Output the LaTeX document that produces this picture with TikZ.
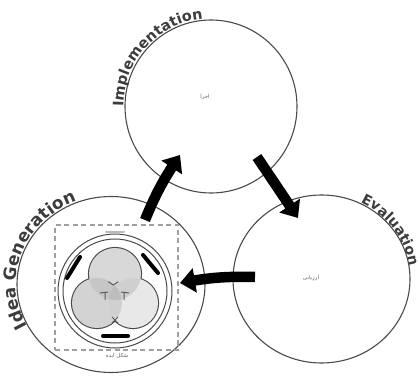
\documentclass[tikz,border=0pt]{standalone}
\usepackage{fontspec}
\usetikzlibrary{arrows.meta,decorations.text,shapes.geometric,bending,calc}
\newfontfamily\labfont{DejaVu Sans Bold}
\newfontfamily\arabicfont[Script=Arabic]{DejaVu Sans}
\TeXXeTstate=1
\definecolor{ring}{HTML}{4A4A4A}
\definecolor{txt}{HTML}{3C3C3C}
\definecolor{cT}{HTML}{D8D8D8}
\definecolor{cL}{HTML}{D3D3D3}
\definecolor{cR}{HTML}{E8E8E8}
\definecolor{cTL}{HTML}{C6C6C6}
\definecolor{cTR}{HTML}{CFCFCF}
\definecolor{cLR}{HTML}{D0D0D0}
\definecolor{cC}{HTML}{BDBDBD}
\begin{document}
\begin{tikzpicture}[x=1pt,y=1pt,
  stage/.style={ellipse, draw=ring, line width=1.1pt, fill=white, inner sep=0pt},
  bigarrow/.style={line width=10.5pt, draw=black, -{Triangle[length=15pt,width=24pt,flex]}},
  ringline/.style={circle, draw=ring, line width=1pt, inner sep=0pt},
  barline/.style={line width=4pt, line cap=round, draw=black},
  tickmark/.style={line width=1pt, draw=ring!90},
  smalltxt/.style={font=\arabicfont\fontsize{5.5}{6}\selectfont, text=txt!80, inner sep=0pt},
]
\useasboundingbox (0,0) rectangle (420,380);

% stages
\node[stage, minimum width=172pt, minimum height=173pt] (impl) at (211,273.5) {};
\node[stage, minimum width=177pt, minimum height=168pt] (eval) at (321.5,101) {};
\node[stage, minimum width=188pt, minimum height=176pt] (idea) at (111,95.5) {};

% curved titles
\path[decorate, decoration={text along path, text align=left,
  text={|\labfont\fontsize{14.5}{18}\selectfont\color{txt}|Implementation}}]
  (211,273.5) ++(180:87.5pt and 88pt) arc[start angle=180, end angle=40, x radius=87.5pt, y radius=88pt];
\path[decorate, decoration={text along path, text align=left,
  text={|\labfont\fontsize{14}{18}\selectfont\color{txt}|Evaluation}}]
  (321.5,101) ++(64:89pt and 85pt) arc[start angle=64, end angle=-60, x radius=89pt, y radius=85pt];
\path[decorate, decoration={text along path, text align=left,
  text={|\labfont\fontsize{17}{20}\selectfont\color{txt}|Idea Generation}}]
  (111,95.5) ++(208:95pt and 89.5pt) arc[start angle=208, end angle=50, x radius=95pt, y radius=89.5pt];

% inner labels
\node[smalltxt] (implt) at (205,283) {\beginR اجرا\endR};
\node[smalltxt] (evalt) at (311,102) {\beginR ارزیابی\endR};

% dashed box
\node[draw=gray!75, dash pattern=on 5pt off 3.5pt, line width=1.1pt, minimum width=123pt, minimum height=125pt, inner sep=0pt] (box) at (116.5,92.5) {};
\node[smalltxt] (boxt) at (117,24) {\beginR شکل ایده\endR};

% rings
\node[ringline, minimum size=114pt] (ringo) at (115,89) {};
\node[ringline, minimum size=104pt] (ringi) at (115,89) {};

% trefoil
\coordinate (lt) at (115,106);
\coordinate (lb) at (97,77);
\coordinate (lr) at (133,77);
\draw[ring, line width=2.2pt] (lt) circle[radius=26pt] (lb) circle[radius=25pt] (lr) circle[radius=25pt];
\fill[cT] (lt) circle[radius=26pt];
\fill[cL] (lb) circle[radius=25pt];
\fill[cR] (lr) circle[radius=25pt];
\begin{scope}\clip (lt) circle[radius=26pt]; \fill[cTL] (lb) circle[radius=25pt]; \end{scope}
\begin{scope}\clip (lt) circle[radius=26pt]; \fill[cTR] (lr) circle[radius=25pt]; \end{scope}
\begin{scope}\clip (lb) circle[radius=25pt]; \fill[cLR] (lr) circle[radius=25pt]; \end{scope}
\begin{scope}\clip (lt) circle[radius=26pt]; \clip (lb) circle[radius=25pt]; \fill[cC] (lr) circle[radius=25pt]; \end{scope}

% small marks inside trefoil
\draw[tickmark] (108.3,98.3) -- (113.3,95) -- (118.3,98.3);
\draw[tickmark] (100,87) -- (108,88) (105,87.5) -- (105,80);
\draw[tickmark] (121,88) -- (129,87) (124,87.5) -- (124,80);
\draw[tickmark] (112,63) -- (118,57) (112,57) -- (118,63);

% black bars on the ring
\draw[barline] (67,102) -- (80,123);
\draw[barline] (143,125) -- (158,107);
\draw[barline] (103,44) -- (128,44);
\draw[gray!55, line width=2pt, line cap=round] (106,148) -- (124,148);

% big arrows
\coordinate (a1s) at ($(idea.center)+(34,64.5)$);
\coordinate (a1e) at ($(impl.center)+(-31,-48.5)$);
\coordinate (a2s) at ($(impl.center)+(46,-50.5)$);
\coordinate (a2e) at ($(eval.center)+(-23.5,61)$);
\coordinate (a3s) at ($(eval.center)+(-66.5,2)$);
\coordinate (a3e) at ($(idea.center)+(69,1.5)$);
\draw[bigarrow] (a1s) to[bend left=6] (a1e);
\draw[bigarrow] (a2s) -- (a2e);
\draw[bigarrow] (a3s) to[bend right=6] (a3e);
\end{tikzpicture}
\end{document}
